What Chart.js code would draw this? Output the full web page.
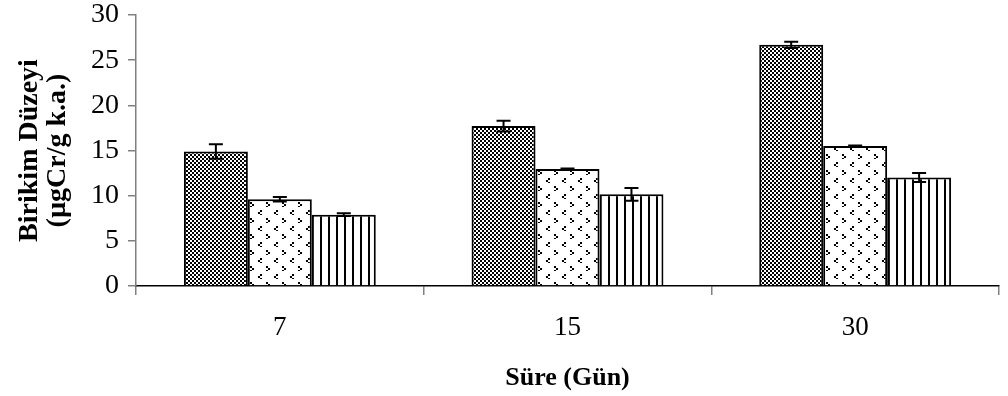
<!DOCTYPE html>
<html>
<head>
<meta charset="utf-8">
<script src="https://cdn.jsdelivr.net/npm/chart.js@4"></script>
<style>
html,body{margin:0;padding:0;background:#fff;}
#wrap{width:1008px;height:396px;position:relative;}
</style>
</head>
<body>
<div id="wrap"><canvas id="c" width="1008" height="396"></canvas></div>
<script>
const categories = ['7', '15', '30'];
const series1 = [14.9, 17.7, 26.7];
const errors1 = [0.8, 0.6, 0.35];
const series2 = [9.6, 12.95, 15.5];
const errors2 = [0.25, 0.05, 0.05];
const series3 = [7.9, 10.15, 12.0];
const errors3 = [0.15, 0.7, 0.5];
const yMin = 0, yMax = 30, yStep = 5;
const xTitle = 'Süre (Gün)';
const yTitle = ['Birikim Düzeyi', '(µgCr/g k.a.)'];

function makeTile(w, h, draw) {
  const c = document.createElement('canvas');
  c.width = w; c.height = h;
  const g = c.getContext('2d');
  g.fillStyle = '#fff'; g.fillRect(0, 0, w, h);
  g.fillStyle = '#000';
  draw(g);
  return document.getElementById('c').getContext('2d').createPattern(c, 'repeat');
}
const checker = makeTile(4, 4, g => { g.fillRect(0, 0, 2, 2); g.fillRect(2, 2, 2, 2); });
const chevrons = makeTile(16, 16, g => {
  // '<'
  g.fillRect(4, 2, 2, 2); g.fillRect(2, 4, 2, 2); g.fillRect(4, 6, 2, 1);
  // '>'
  g.fillRect(10, 10, 2, 2); g.fillRect(12, 12, 2, 2); g.fillRect(10, 14, 2, 1);
});
const stripes = makeTile(8, 4, g => { g.fillRect(0, 0, 2, 4); });

const errorBars = {
  id: 'errorBars',
  afterDatasetsDraw(chart) {
    const ctx = chart.ctx, y = chart.scales.y;
    ctx.save();
    ctx.strokeStyle = '#000';
    ctx.lineWidth = 2;
    chart.data.datasets.forEach((ds, i) => {
      const meta = chart.getDatasetMeta(i);
      meta.data.forEach((el, j) => {
        const v = ds.data[j], e = ds.errors[j];
        const top = y.getPixelForValue(v + e), bot = y.getPixelForValue(v - e);
        const x = el.x, cap = 7;
        ctx.beginPath();
        ctx.moveTo(x, top); ctx.lineTo(x, bot);
        ctx.moveTo(x - cap, top); ctx.lineTo(x + cap, top);
        ctx.moveTo(x - cap, bot); ctx.lineTo(x + cap, bot);
        ctx.stroke();
      });
    });
    ctx.restore();
  }
};

const serif = '"Liberation Serif", "Times New Roman", serif';

new Chart(document.getElementById('c'), {
  type: 'bar',
  data: {
    labels: categories,
    datasets: [
      { label: 'Seri 1', data: series1, errors: errors1, backgroundColor: checker },
      { label: 'Seri 2', data: series2, errors: errors2, backgroundColor: chevrons },
      { label: 'Seri 3', data: series3, errors: errors3, backgroundColor: stripes }
    ].map(d => Object.assign(d, { borderColor: '#000', borderWidth: 2, categoryPercentage: 0.667, barPercentage: 1 }))
  },
  options: {
    responsive: false,
    animation: false,
    devicePixelRatio: 1,
    layout: { padding: { top: 15, right: 9, left: 0, bottom: 0 } },
    plugins: { legend: { display: false }, tooltip: { enabled: false } },
    scales: {
      x: {
        grid: { offset: true, drawOnChartArea: false, drawTicks: true, tickLength: 9, color: '#808080', lineWidth: 1.5 },
        border: { display: true, color: '#000', width: 1.5 },
        ticks: { color: '#000', font: { family: serif, size: 27 }, padding: 17 },
        title: { display: true, text: xTitle, color: '#000', font: { family: serif, size: 26, weight: 'bold' }, padding: { top: 0, bottom: 2 } },
        afterFit(s) { s.height = 110; s.paddingLeft = 0; s.paddingRight = 0; }
      },
      y: {
        min: yMin, max: yMax,
        ticks: { stepSize: yStep, color: '#000', font: { family: serif, size: 28, lineHeight: 1.0 }, padding: 9 },
        grid: { drawOnChartArea: false, tickLength: 8, color: '#808080', lineWidth: 1.5 },
        border: { display: true, color: '#808080', width: 1.5 },
        title: { display: true, text: yTitle, color: '#000', font: { family: serif, size: 28, weight: 'bold', lineHeight: 1.0 }, padding: { top: 16, bottom: 0 } },
        afterFit(s) { s.width = 136; s.paddingTop = 0; s.paddingBottom = 0; }
      }
    }
  },
  plugins: [errorBars]
});
</script>
</body>
</html>
